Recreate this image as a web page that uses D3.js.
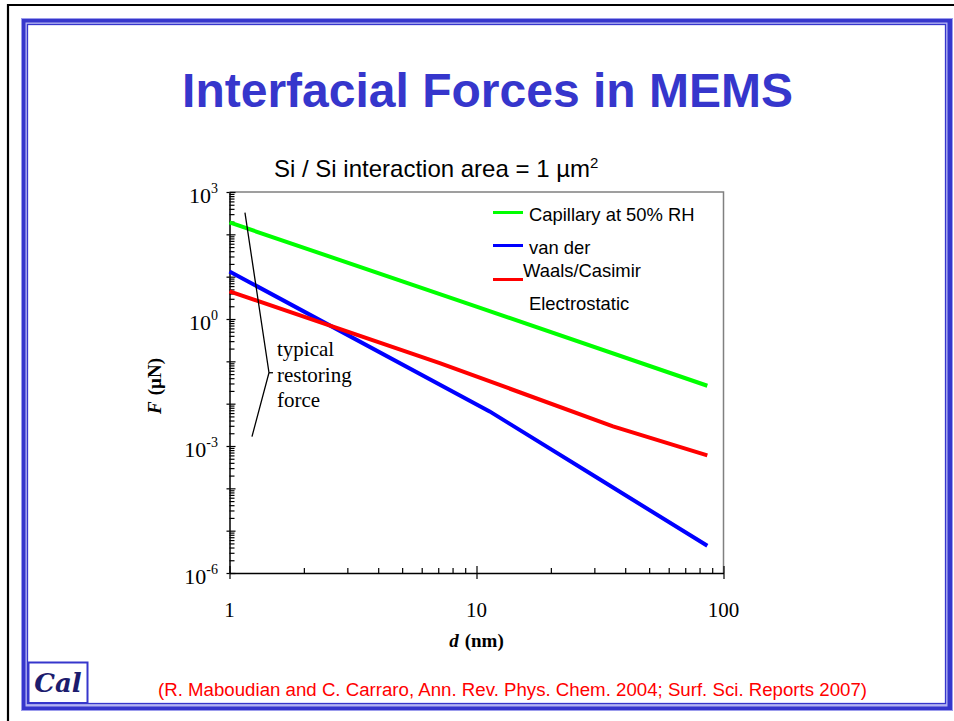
<!DOCTYPE html>
<html>
<head>
<meta charset="utf-8">
<script src="https://cdn.jsdelivr.net/npm/d3@7"></script>
<style>
  body { margin: 0; background: #fff; }
  svg { display: block; }
</style>
</head>
<body>
<figure id="chart" style="margin:0"></figure>
<script>
// values (d in nm, F in uN)
const dCapillary = [1, 10, 86];
const fCapillary = [191, 1.96, 0.0265];
const dVdw = [1, 11.3, 30, 86];
const fVdw = [13.3, 0.00656, 0.000195, 0.0000044];
const dElectro = [1, 7.1, 35.7, 86];
const fElectro = [4.49, 0.0912, 0.0029, 0.0006];

const xTickLabels = [1, 10, 100];
const yLabelExps = [3, 0, -3, -6];
const legendLabels = ["Capillary at 50% RH", "van der", "Waals/Casimir", "Electrostatic"];

// "typical restoring force" bracket, in data units
const bracketD = [1.155, 1.445, 1.233];
const bracketF = [324, 0.0538, 0.00166];
const noteLines = ["typical", "restoring", "force"];

const width = 954;
const height = 721;
const blue = "#3636cc";

const svg = d3.select("figure#chart")
  .append("svg")
  .attr("width", width)
  .attr("height", height);

// slide frame
svg.append("path")
  .attr("d", "M8,721 V5 H954")
  .attr("fill", "none")
  .attr("stroke", "#000")
  .attr("stroke-width", 2.2);
svg.append("rect")
  .attr("x", 21).attr("y", 18).attr("width", 932).attr("height", 693)
  .attr("fill", "#9c9cec");
svg.append("rect")
  .attr("x", 22).attr("y", 19).attr("width", 930).attr("height", 691)
  .attr("fill", blue);
svg.append("rect")
  .attr("x", 25.5).attr("y", 22.5).attr("width", 922).attr("height", 684)
  .attr("fill", "#b4b4f2");
svg.append("rect")
  .attr("x", 27.5).attr("y", 24.5).attr("width", 918).attr("height", 679)
  .attr("fill", "#fff")
  .attr("stroke", blue)
  .attr("stroke-width", 1.3);

// title + subtitle
svg.append("text")
  .attr("x", 487.5).attr("y", 107)
  .attr("text-anchor", "middle")
  .style("font-family", "Liberation Sans, Arial, sans-serif")
  .style("font-weight", "bold")
  .style("font-size", "48px")
  .attr("fill", blue)
  .text("Interfacial Forces in MEMS");

const sub = svg.append("text")
  .attr("x", 274).attr("y", 177)
  .style("font-family", "Liberation Sans, Arial, sans-serif")
  .style("font-size", "24px")
  .attr("fill", "#000");
sub.append("tspan").text("Si / Si interaction area = 1 \u00b5m");
sub.append("tspan").attr("dy", -9).style("font-size", "15px").text("2");

// scales
const x = d3.scaleLog().domain([1, 100]).range([229.5, 723.5]);
const y = d3.scaleLog().domain([1e-6, 1e3]).range([573, 192]);

const serif = "Liberation Serif, Times New Roman, serif";

// plot box: top and right edges grey
svg.append("path")
  .attr("d", `M${x(1)},${y(1e3)} H${x(100)} V${y(1e-6)}`)
  .attr("fill", "none")
  .attr("stroke", "#808080")
  .attr("stroke-width", 1.5);

// tick values
const decades = d3.range(-6, 4).map(e => Math.pow(10, e));
const yMinor = [];
decades.slice(0, -1).forEach(p => { for (let k = 2; k < 10; k++) yMinor.push(p * k); });
const xMinor = [];
[1, 10].forEach(p => { for (let k = 2; k < 10; k++) xMinor.push(p * k); });

// y axis: minor ticks inside, decade ticks crossing
svg.append("g")
  .attr("transform", `translate(${x(1)},0)`)
  .call(d3.axisLeft(y).tickValues(yMinor).tickSize(-5).tickFormat(""))
  .call(g => g.select(".domain").remove());
svg.append("g")
  .attr("transform", `translate(${x(1)},0)`)
  .call(d3.axisLeft(y).tickValues(decades).tickSizeInner(-6).tickSizeOuter(0).tickFormat(""))
  .call(g => g.select(".domain").remove());
svg.append("g")
  .attr("transform", `translate(${x(1)},0)`)
  .call(d3.axisLeft(y).tickValues(decades).tickSizeInner(3).tickSizeOuter(0).tickFormat(""))
  .call(g => g.select(".domain").attr("stroke-width", 1.5));

// x axis
svg.append("g")
  .attr("transform", `translate(0,${y(1e-6)})`)
  .call(d3.axisBottom(x).tickValues(xMinor).tickSize(-5).tickFormat(""))
  .call(g => g.select(".domain").remove());
svg.append("g")
  .attr("transform", `translate(0,${y(1e-6)})`)
  .call(d3.axisBottom(x).tickValues(xTickLabels).tickSizeInner(6).tickSizeOuter(0).tickFormat(""))
  .call(g => g.select(".domain").remove());
svg.append("g")
  .attr("transform", `translate(0,${y(1e-6)})`)
  .call(d3.axisBottom(x).tickValues(xTickLabels).tickSizeInner(-7).tickSizeOuter(0).tickFormat(""))
  .call(g => g.select(".domain").attr("stroke-width", 1.5));
svg.selectAll("g.tick line").attr("stroke-width", 1.2);

// y tick labels 10^n
yLabelExps.forEach(e => {
  const t = svg.append("text")
    .attr("x", 218)
    .attr("y", y(Math.pow(10, e)) + 11)
    .attr("text-anchor", "end")
    .style("font-family", serif)
    .style("font-size", "22px");
  t.append("tspan").text("10");
  t.append("tspan").attr("dy", -10).style("font-size", "14px").text(String(e));
});

// x tick labels
svg.selectAll(".xlab")
  .data(xTickLabels)
  .enter()
  .append("text")
  .attr("x", d => x(d))
  .attr("y", 617)
  .attr("text-anchor", "middle")
  .style("font-family", serif)
  .style("font-size", "21px")
  .text(d => d);

// axis titles
const xt = svg.append("text")
  .attr("x", x(10)).attr("y", 647)
  .attr("text-anchor", "middle")
  .style("font-family", serif)
  .style("font-size", "19px")
  .style("font-weight", "bold");
xt.append("tspan").style("font-style", "italic").text("d");
xt.append("tspan").attr("dx", 6).text("(nm)");

const yt = svg.append("text")
  .attr("transform", "translate(161,386) rotate(-90)")
  .attr("text-anchor", "middle")
  .style("font-family", serif)
  .style("font-size", "19px")
  .style("font-weight", "bold");
yt.append("tspan").style("font-style", "italic").text("F");
yt.append("tspan").attr("dx", 6).text("(\u00b5N)");

// curves
const line = d3.line()
  .x(d => x(d[0]))
  .y(d => y(d[1]));

const series = [
  { d: dCapillary, f: fCapillary, color: "#00ff00" },
  { d: dVdw, f: fVdw, color: "#0000ff" },
  { d: dElectro, f: fElectro, color: "#ff0000" }
];

svg.selectAll(".curve")
  .data(series)
  .enter()
  .append("path")
  .attr("class", "curve")
  .attr("d", s => line(d3.zip(s.d, s.f)))
  .attr("fill", "none")
  .attr("stroke", s => s.color)
  .attr("stroke-width", 4);

// restoring force bracket + note
const bracket = d3.zip(bracketD, bracketF);
svg.append("path")
  .attr("d", line(bracket))
  .attr("fill", "none")
  .attr("stroke", "#000")
  .attr("stroke-width", 1.3);
svg.append("line")
  .attr("x1", x(bracketD[1])).attr("y1", y(bracketF[1]))
  .attr("x2", x(bracketD[1]) + 4).attr("y2", y(bracketF[1]))
  .attr("stroke", "#000")
  .attr("stroke-width", 1.3);
svg.selectAll(".note")
  .data(noteLines)
  .enter()
  .append("text")
  .attr("x", 277)
  .attr("y", (d, i) => 356 + i * 25.5)
  .style("font-family", serif)
  .style("font-size", "21px")
  .text(d => d);

// legend
const legFont = "Liberation Sans, Arial, sans-serif";
const legendLines = [
  { x1: 493, x2: 523, y: 212.5, color: "#00ff00" },
  { x1: 493, x2: 523, y: 245.5, color: "#0000ff" },
  { x1: 493, x2: 523, y: 279.5, color: "#ff0000" }
];
svg.selectAll(".legline")
  .data(legendLines)
  .enter()
  .append("line")
  .attr("x1", d => d.x1).attr("x2", d => d.x2)
  .attr("y1", d => d.y).attr("y2", d => d.y)
  .attr("stroke", d => d.color)
  .attr("stroke-width", 3);

const legendPos = [[529, 220.5], [529, 254], [523, 277], [529, 310]];
svg.selectAll(".legtext")
  .data(legendLabels)
  .enter()
  .append("text")
  .attr("x", (d, i) => legendPos[i][0])
  .attr("y", (d, i) => legendPos[i][1])
  .style("font-family", legFont)
  .style("font-size", "18.4px")
  .text(d => d);

// footer: Cal logo + citation
svg.append("rect")
  .attr("x", 28.5).attr("y", 662.5).attr("width", 59).attr("height", 40.5)
  .attr("fill", "#fff")
  .attr("stroke", blue)
  .attr("stroke-width", 2);
svg.append("text")
  .attr("x", 58).attr("y", 692)
  .attr("text-anchor", "middle")
  .style("font-family", "DejaVu Serif, serif")
  .style("font-style", "italic")
  .style("font-weight", "bold")
  .style("font-size", "26px")
  .attr("fill", "#1c1c6e")
  .text("Cal");

svg.append("text")
  .attr("x", 512.5).attr("y", 696)
  .attr("text-anchor", "middle")
  .attr("textLength", 709)
  .attr("lengthAdjust", "spacingAndGlyphs")
  .style("font-family", "Liberation Sans Narrow, Liberation Sans, Arial, sans-serif")
  .style("font-size", "18px")
  .attr("fill", "#ff0000")
  .text("(R. Maboudian and C. Carraro, Ann. Rev. Phys. Chem. 2004; Surf. Sci. Reports 2007)");
</script>
</body>
</html>
